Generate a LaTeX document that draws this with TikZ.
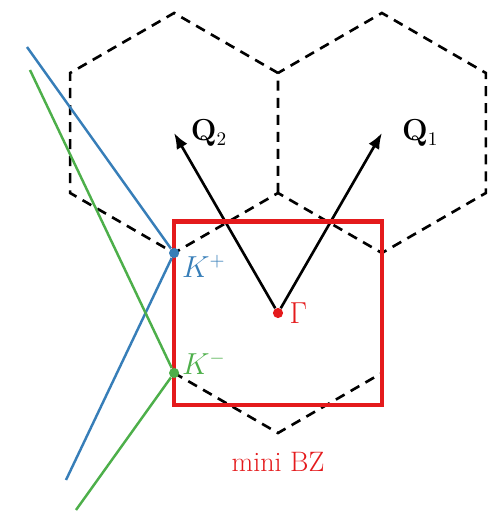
\documentclass[tikz,border=0pt]{standalone}
\usepackage{amsmath}
\usepackage{amssymb}
\usepackage{tikz}
\usetikzlibrary{positioning,arrows.meta}

\definecolor{bzred}{RGB}{228,26,28}
\definecolor{kblue}{RGB}{55,126,184}
\definecolor{kgreen}{RGB}{77,175,74}

\begin{document}
\begin{tikzpicture}[
font=\fontsize{16}{19}\selectfont,
hexedge/.style={dash pattern=on 5.7pt off 4pt, line width=1.5pt},
vec/.style={-{Latex[length=9pt,width=7pt]}, line width=1.5pt},
band/.style={line width=1.4pt},
dot/.style={circle, inner sep=0pt, minimum size=5.8pt}
]
\useasboundingbox (-5.56,-4.02) rectangle (4.40,6.26);

% hexagon corners
\coordinate (hm) at (0,2.4);
\coordinate (ht) at (0,4.8);
\coordinate (hlt) at (-2.078,6);
\coordinate (hll) at (-4.157,4.8);
\coordinate (hlb) at (-4.157,2.4);
\coordinate (hrt) at (2.078,6);
\coordinate (hrr) at (4.157,4.8);
\coordinate (hrb) at (4.157,2.4);
\coordinate (hr) at (2.078,1.2);
\coordinate (hbl) at (-2.078,-1.2);
\coordinate (hb) at (0,-2.4);
\coordinate (hbr) at (2.078,-1.2);
\coordinate (kpc) at (-2.078,1.2);

% reciprocal lattice tips
\coordinate (q2tip) at (-2.078,3.6);
\coordinate (q1tip) at (2.078,3.6);

% band ends
\coordinate (bluetop) at (-5.02,5.32);
\coordinate (bluebot) at (-4.24,-3.34);
\coordinate (greentop) at (-4.96,4.86);
\coordinate (greenbot) at (-4.04,-3.94);

% mini BZ corners
\coordinate (bzsw) at (-2.078,-1.84);
\coordinate (bzne) at (2.078,1.83);

\draw[hexedge] (hm) -- (ht) -- (hlt) -- (hll) -- (hlb) -- (kpc) -- (hm) -- (hr) -- (hrb) -- (hrr) -- (hrt) -- (ht);
\draw[hexedge] (kpc) -- (hbl) -- (hb) -- (hbr) -- (hr);

\node[dot, fill=bzred] (G) at (0,0) {};
\node[right=0pt of G, text=bzred] (Glab) {$\Gamma$};

\draw[vec] (G) -- (q2tip);
\draw[vec] (G) -- (q1tip);
\node[right=6pt of q2tip] (Q2) {$\mathbf{Q}_2$};
\node[right=8pt of q1tip] (Q1) {$\mathbf{Q}_1$};

\draw[bzred, line width=2.3pt] (bzsw) rectangle (bzne);
\node[text=bzred] (mbz) at (0,-2.98) {mini BZ};

\node[dot, fill=kblue] (Kp) at (kpc) {};
\node[dot, fill=kgreen] (Km) at (hbl) {};
\draw[band, kblue] (bluetop) -- (Kp) -- (bluebot);
\draw[band, kgreen] (greentop) -- (Km) -- (greenbot);
\node[right=-2pt of Kp, yshift=-0.26cm, text=kblue] (Kplab) {$K^{+}$};
\node[right=-2pt of Km, yshift=0.2cm, text=kgreen] (Kmlab) {$K^{-}$};
\end{tikzpicture}
\end{document}
